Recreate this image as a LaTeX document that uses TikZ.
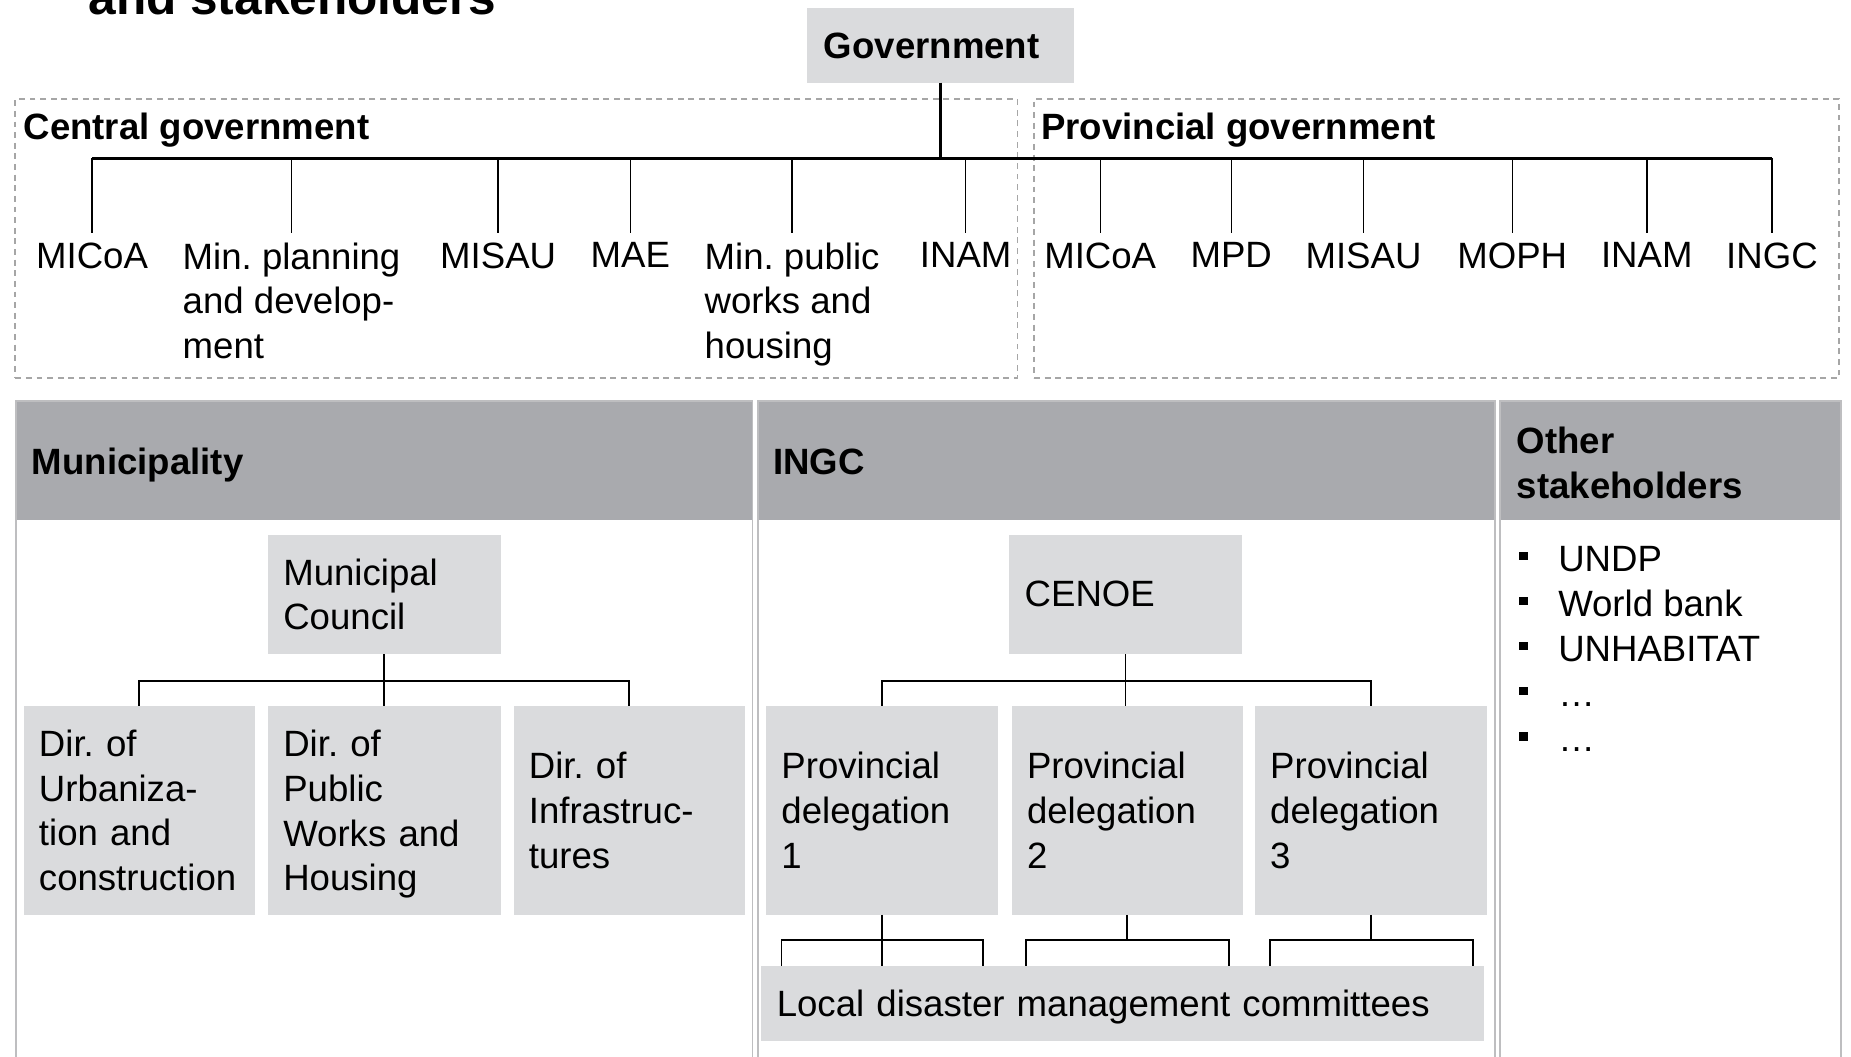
\documentclass[tikz,border=0pt]{standalone}
\usepackage{fontspec}
\setmainfont{Liberation Sans}
\usetikzlibrary{calc}
\definecolor{boxgray}{RGB}{218,219,221}
\definecolor{headgray}{RGB}{169,170,174}
\definecolor{dashgray}{RGB}{166,166,166}
\definecolor{panelgray}{RGB}{190,190,192}
\frenchspacing
\begin{document}
\frenchspacing
\begin{tikzpicture}[x=1pt,y=-1pt,
  every node/.style={inner sep=0pt, outer sep=0pt, text=black},
  rm/.style={font=\fontsize{31}{38}\selectfont\frenchspacing},
  bf/.style={font=\fontsize{31}{38}\selectfont\bfseries\frenchspacing},
  gbox/.style={rm, fill=boxgray, anchor=north west, align=left, inner xsep=13pt},
  lbl/.style={rm, anchor=north, align=left, inner ysep=8.5pt},
  dropln/.style={line width=1.2pt, black},
  thinln/.style={line width=1.5pt, black},
  busln/.style={line width=2.5pt, black},
  dashbox/.style={draw=dashgray, line width=1.5pt, dash pattern=on 5pt off 4pt, anchor=north west},
  panel/.style={draw=panelgray, line width=1.5pt},
  ]
\useasboundingbox (0,0) rectangle (1568,895);
\clip (0,0) rectangle (1568,895);
\fill[white] (0,0) rectangle (1568,895);

% title (cut off)
\node[font=\fontsize{42}{50}\selectfont\bfseries, anchor=base west] (title) at (75,12) {and stakeholders};

% government
\node[bf, fill=boxgray, anchor=north west, align=left, inner xsep=14pt, text width=198pt, minimum height=63pt] (gov) at (684,7) {Government};

% dashed containers
\node[dashbox, minimum width=849pt, minimum height=236pt] (central) at (13,84) {};
\node[dashbox, minimum width=682pt, minimum height=236pt] (prov) at (876,84) {};
\node[bf, anchor=base west] (centrallbl) at (20,118) {Central government};
\node[bf, anchor=base west] (provlbl) at (882,118) {Provincial government};

% central ministries
\node[lbl] (cMICoA) at (78,197) {MICoA};
\node[lbl] (cMPD) at (247,197) {Min. planning\\and develop-\\ment};
\node[lbl] (cMISAU) at (422,197) {MISAU};
\node[lbl] (cMAE) at (534,197) {MAE};
\node[lbl] (cMPW) at (671,197) {Min. public\\works and\\housing};
\node[lbl] (cINAM) at (818,197) {INAM};
% provincial ministries
\node[lbl] (pMICoA) at (932,197) {MICoA};
\node[lbl] (pMPD) at (1043,197) {MPD};
\node[lbl] (pMISAU) at (1155,197) {MISAU};
\node[lbl] (pMOPH) at (1281,197) {MOPH};
\node[lbl] (pINAM) at (1395,197) {INAM};
\node[lbl] (pINGC) at (1501,197) {INGC};

\coordinate (bus) at (798,134);
\draw[busln] (gov.south) -- (gov.south |- bus);
\draw[busln] (cMICoA.north |- bus) -- (pINGC.north |- bus);
\foreach \n in {cMICoA,cMPD,cMISAU,cMAE,cMPW,cINAM,pMICoA,pMPD,pMISAU,pMOPH,pINAM,pINGC}
  \draw[dropln] (\n.north) -- (\n.north |- bus);

% lower panels
\fill[headgray] (13.5,339.5) rectangle (637.5,440.5);
\fill[headgray] (642,339.5) rectangle (1266.5,440.5);
\fill[headgray] (1270.5,339.5) rectangle (1559.5,440.5);
\draw[panel] (13.5,339.5) rectangle (637.5,900);
\draw[panel] (642,339.5) rectangle (1266.5,900);
\draw[panel] (1270.5,339.5) rectangle (1559.5,900);
\node[bf, anchor=base west] (munilbl) at (27,402) {Municipality};
\node[bf, anchor=base west] (ingclbl) at (655,402) {INGC};
\node[bf, anchor=north west, align=left] (otherlbl) at (1285,361.5) {Other\\stakeholders};

% municipality
\node[gbox, text width=171pt, minimum height=101pt] (mc) at (227,453) {Municipal\\Council};
\node[gbox, text width=170pt, minimum height=177pt] (d1) at (20,598) {Dir. of\\Urbaniza-\\tion and\\construction};
\node[gbox, text width=171pt, minimum height=177pt] (d2) at (227,598) {Dir. of\\Public\\Works and\\\raisebox{0pt}[\height][0pt]{Housing}};
\node[gbox, text width=170pt, minimum height=177pt] (d3) at (435,598) {Dir. of\\Infrastruc-\\tures};
\draw[thinln] (mc.south) -- (mc.south |- d2.north);
\draw[thinln] (d1.north) -- ++(0,-21) -| (d3.north);

% INGC
\node[gbox, text width=171pt, minimum height=101pt] (cenoe) at (855,453) {CENOE};
\node[gbox, text width=170pt, minimum height=177pt] (pd1) at (649,598) {Provincial\\delegation\\1};
\node[gbox, text width=170pt, minimum height=177pt] (pd2) at (857,598) {Provincial\\delegation\\2};
\node[gbox, text width=171pt, minimum height=177pt] (pd3) at (1063,598) {Provincial\\delegation\\3};
\draw[thinln] (cenoe.south) -- (cenoe.south |- pd2.north);
\draw[thinln] (pd1.north) -- ++(0,-21) -| (pd3.north);

\node[gbox, text width=586pt, minimum height=64pt] (ldmc) at (645,818) {\raisebox{0pt}[\height][0pt]{Local disaster management committees}};
\draw[thinln] (pd1.south) -- (pd1.south |- ldmc.north);
\draw[thinln] ($(pd1.south)+(-85,43)$) -- ++(0,-22) -- ++(171,0) -- ++(0,22);
\draw[thinln] (pd2.south) -- ++(0,21);
\draw[thinln] ($(pd2.south)+(-86,43)$) -- ++(0,-22) -- ++(172,0) -- ++(0,22);
\draw[thinln] (pd3.south) -- ++(0,21);
\draw[thinln] ($(pd3.south)+(-85.5,43)$) -- ++(0,-22) -- ++(172,0) -- ++(0,22);

% other stakeholders list
\newcommand{\sqbul}{\makebox[33pt][l]{\raisebox{9.5pt}{\rule{7pt}{7pt}}}}
\node[rm, anchor=base west] (o1) at (1287,484) {\sqbul UNDP};
\node[rm, anchor=base west] (o2) at (1287,522.2) {\sqbul World bank};
\node[rm, anchor=base west] (o3) at (1287,560.4) {\sqbul UNHABITAT};
\node[rm, anchor=base west] (o4) at (1287,598.6) {\sqbul …};
\node[rm, anchor=base west] (o5) at (1287,636.8) {\sqbul …};
\end{tikzpicture}
\end{document}
